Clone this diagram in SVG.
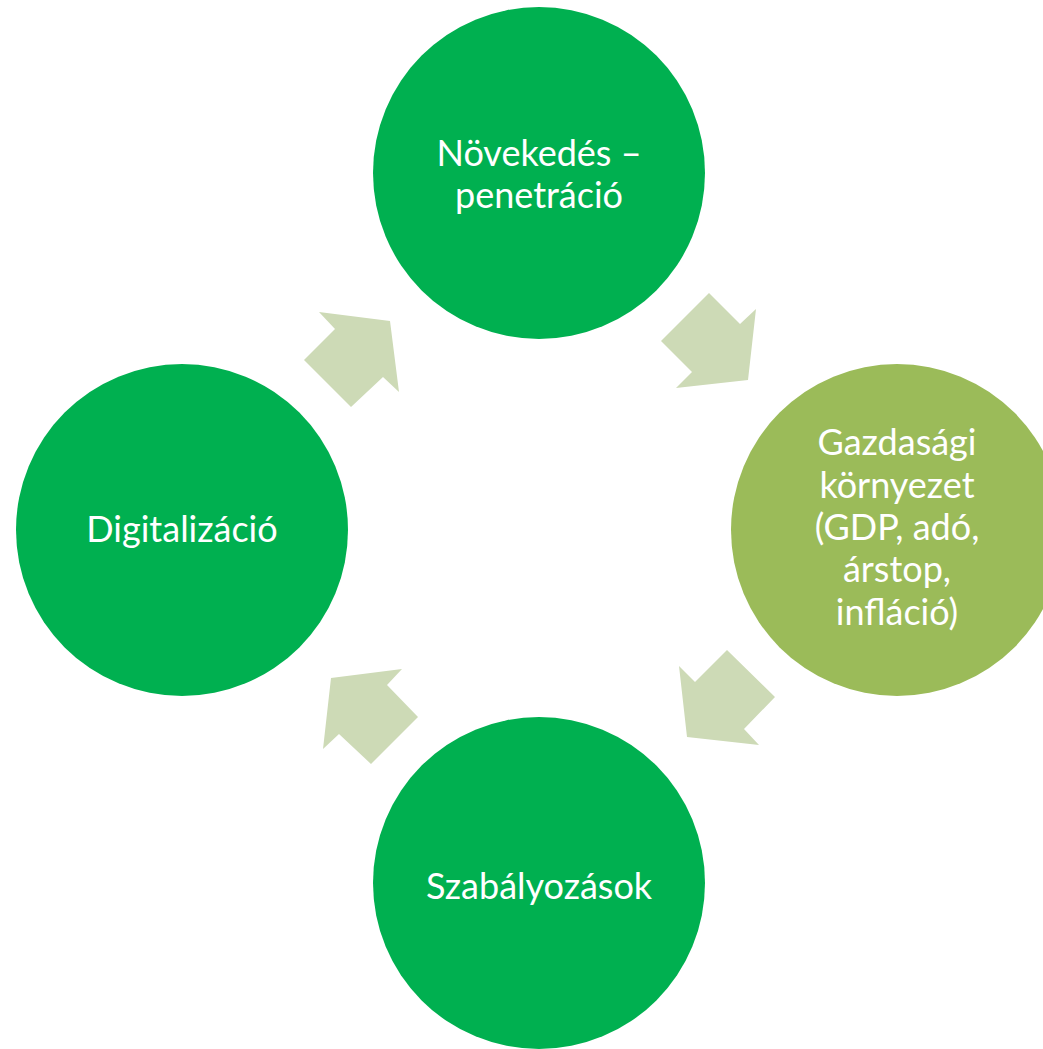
<svg xmlns="http://www.w3.org/2000/svg" width="1043" height="1049" viewBox="0 0 1043 1049">
<style>
.n{fill:#00B050}
.g{fill:#9BBB59}
.a{fill:#CDDAB6}
text{font-family:Lato,"Open Sans","Liberation Sans",sans-serif;font-size:36px;fill:#fff;text-anchor:middle;dominant-baseline:central}
</style>
<rect width="1043" height="1049" fill="#fff"/>
<g id="connectors">
<polygon class="a" points="319,312 390,321 399,392 383,377 351,407 304,360 335,329"/>
<polygon class="a" points="709,293 740,324 756,309 748,380 676,388 692,372 661,341"/>
<polygon class="a" points="679,666 695,682 727,650 775,697 744,729 759,745 687,737"/>
<polygon class="a" points="331,678 402,669 387,685 418,717 371,764 339,734 323,749"/>
</g>
<g id="node-top">
<circle class="n" cx="539" cy="173" r="166"/>
<text x="539" y="152">Növekedés –</text>
<text x="539" y="194">penetráció</text>
</g>
<g id="node-right">
<circle class="g" cx="897" cy="530" r="166"/>
<text x="897" y="441">Gazdasági</text>
<text x="897" y="484">környezet</text>
<text x="897" y="526">(GDP, adó,</text>
<text x="897" y="568">árstop,</text>
<text x="897" y="611">infláció)</text>
</g>
<g id="node-bottom">
<circle class="n" cx="539" cy="883" r="166"/>
<text x="539" y="885">Szabályozások</text>
</g>
<g id="node-left">
<circle class="n" cx="182" cy="530" r="166"/>
<text x="182" y="528">Digitalizáció</text>
</g>
</svg>
